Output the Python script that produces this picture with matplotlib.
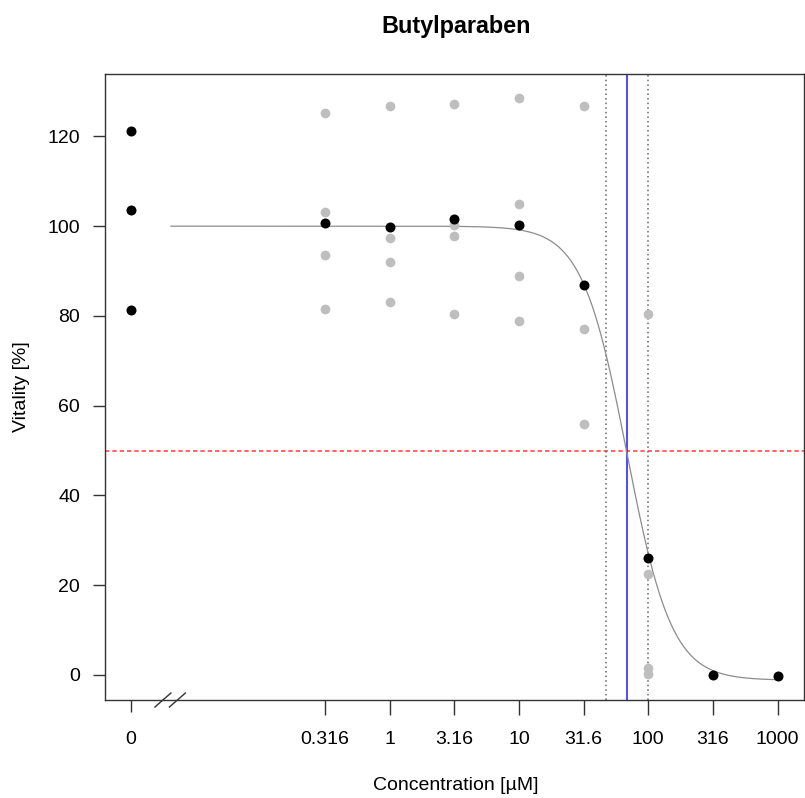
import numpy as np
import matplotlib
matplotlib.use("Agg")
import matplotlib.pyplot as plt
from matplotlib.lines import Line2D
from matplotlib.ticker import NullLocator, FixedLocator, FixedFormatter
from matplotlib.transforms import IdentityTransform

plt.rcParams["font.family"] = ["Liberation Sans", "DejaVu Sans"]

# Concentrations [µM]; the untreated control (0) is drawn at ZERO_POS on the log axis
conc_labels = ["0", "0.316", "1", "3.16", "10", "31.6", "100", "316", "1000"]
conc_values = [0.0, 0.316, 1.0, 3.16, 10.0, 31.6, 100.0, 316.0, 1000.0]
ZERO_POS = 0.01
BREAK_POS = 0.0204

# Control wells (vitality %)
control_vals = [121.1, 103.5, 81.4]

# Individual replicates per treated concentration
rep_conc = [0.316, 1.0, 3.16, 10.0, 31.6, 100.0]
rep_vals = [
    [125.3, 103.1, 93.5, 81.5],
    [126.8, 97.3, 92.1, 83.1],
    [127.3, 100.2, 97.9, 80.5],
    [128.6, 104.9, 88.9, 78.9],
    [126.8, 77.0, 55.8],
    [80.5, 22.5, 1.5, 0.2],
]

# Mean vitality per treated concentration
mean_conc = [0.316, 1.0, 3.16, 10.0, 31.6, 100.0, 316.0, 1000.0]
mean_vals = [100.8, 99.9, 101.6, 100.3, 86.8, 26.0, -0.1, -0.3]

# Four-parameter log-logistic fit
fit_top = 100.0
fit_bottom = -1.2
fit_ec50 = 68.4
fit_hill = 2.5
ec50_ci = [47.1, 98.9]
half_effect = 50.0


def loglogistic(x):
    return fit_bottom + (fit_top - fit_bottom) / (1.0 + (x / fit_ec50) ** fit_hill)


W, H = 805, 798
fig = plt.figure(figsize=(W / 100, H / 100), dpi=100)
ax = fig.add_axes([105 / W, 98 / H, (803.5 - 105) / W, (700.5 - 75) / H])

ax.set_xscale("log")
ax.set_xlim(10 ** -2.2, 10 ** 3.2)
ax.set_ylim(-5.6, 133.8)

# reference lines
ax.axhline(half_effect, color="#ff4a4a", lw=1.2, ls=(0, (2.6, 1.8)), zorder=1)
for ci in ec50_ci:
    ax.axvline(ci, color="#666666", lw=1.1, ls=(0, (1, 2)), zorder=1)
ax.axvline(fit_ec50, color="#1a1aff", lw=1.1, zorder=1)

# fitted curve
xs = np.logspace(np.log10(BREAK_POS), 3, 400)
ax.plot(xs, loglogistic(xs), color="#8c8c8c", lw=0.9, zorder=2)

# replicates
for c, vals in zip(rep_conc, rep_vals):
    ax.plot([c] * len(vals), vals, "o", color="#bebebe", ms=7.0, mec="none", zorder=3)

# control and means
ax.plot([ZERO_POS] * len(control_vals), control_vals, "o", color="black", ms=7.2,
        mec="none", zorder=4)
ax.plot(mean_conc, mean_vals, "o", color="black", ms=7.2, mec="none", zorder=4)

# axes styling
for sp in ax.spines.values():
    sp.set_color("#333333")
    sp.set_linewidth(1.0)

xpos = [ZERO_POS if v == 0 else v for v in conc_values]
ax.xaxis.set_major_locator(FixedLocator(xpos))
ax.xaxis.set_major_formatter(FixedFormatter(conc_labels))
ax.xaxis.set_minor_locator(NullLocator())
ax.set_yticks([0, 20, 40, 60, 80, 100, 120])
ax.yaxis.set_minor_locator(NullLocator())
ax.tick_params(axis="x", length=11, width=1.0, pad=11, labelsize=14, color="#333333")
ax.tick_params(axis="y", length=9, width=1.0, pad=9, labelsize=14, color="#333333")
ax.xaxis.get_major_ticks()[0].tick1line.set_markersize(8.6)

# axis break marks on the x axis
fig.canvas.draw()
bx = ax.transData.transform((BREAK_POS, 0))[0]
by = ax.transAxes.transform((0, 0))[1]
for off in (-8.0, 6.5):
    fig.add_artist(Line2D([bx + off - 8, bx + off + 8], [by - 7, by + 7],
                          transform=IdentityTransform(), color="#333333", lw=1.0))

fig.text(456 / W, 1 - 27 / H, "Butylparaben", ha="center", va="center",
         fontsize=16.8, fontweight="bold")
fig.text(456 / W, 1 - 786 / H, "Concentration [µM]", ha="center", va="center",
         fontsize=14)
fig.text(22 / W, 1 - 387 / H, "Vitality [%]", ha="center", va="center",
         fontsize=14, rotation=90)

fig.savefig("out.png", dpi=100, facecolor="white")
